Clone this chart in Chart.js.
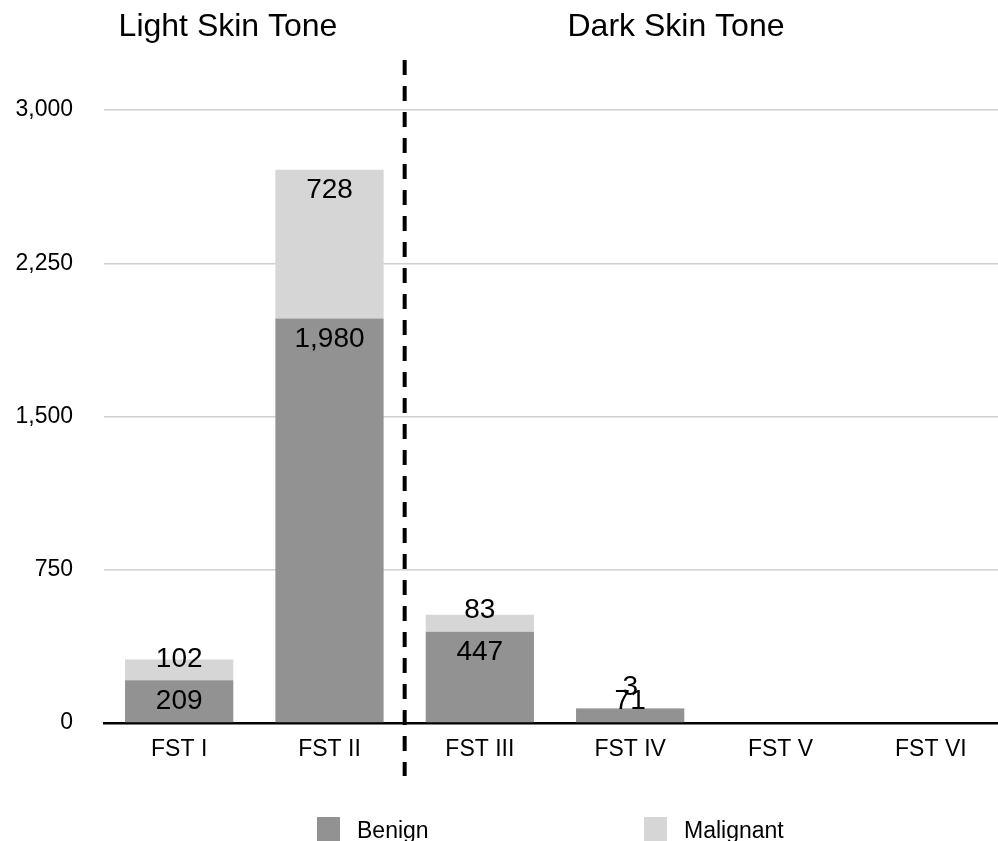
<!DOCTYPE html>
<html>
<head>
<meta charset="utf-8">
<script src="https://cdn.jsdelivr.net/npm/chart.js@4.4.0/dist/chart.umd.min.js"></script>
<style>
  html, body { margin: 0; padding: 0; background: #fff; overflow: hidden; }
  #graph { position: absolute; left: 0; top: 0; }
</style>
</head>
<body>
<canvas id="graph" width="1010" height="841"></canvas>
<script>
// data
const categories = ["FST I", "FST II", "FST III", "FST IV", "FST V", "FST VI"];
const benign = [209, 1980, 447, 71, 0, 0];
const malignant = [102, 728, 83, 3, 0, 0];
const yTicks = [0, 750, 1500, 2250, 3000];
const groupTitles = ["Light Skin Tone", "Dark Skin Tone"];

const FONT = "'Liberation Sans', Arial, Helvetica, sans-serif";
Chart.defaults.font.family = FONT;
Chart.defaults.color = "#000";

// titles above the two groups + dashed divider
const groupPlugin = {
  id: "groups",
  afterDraw(chart) {
    const ctx = chart.ctx;
    const xs = chart.scales.x;
    const divX = xs.getPixelForValue(1.5);
    ctx.save();
    ctx.strokeStyle = "#000";
    ctx.lineWidth = 4;
    ctx.setLineDash([15, 11]);
    ctx.beginPath();
    ctx.moveTo(divX, 60);
    ctx.lineTo(divX, 776);
    ctx.stroke();
    ctx.setLineDash([]);
    ctx.fillStyle = "#000";
    ctx.font = "32px " + FONT;
    ctx.textAlign = "center";
    ctx.textBaseline = "alphabetic";
    ctx.fillText(groupTitles[0], 228, 36);
    ctx.fillText(groupTitles[1], 676, 36);
    ctx.restore();
  }
};

// value labels near the top of every segment
const labelPlugin = {
  id: "vals",
  afterDatasetsDraw(chart) {
    const ctx = chart.ctx;
    ctx.save();
    ctx.font = "28px " + FONT;
    ctx.fillStyle = "#000";
    ctx.textAlign = "center";
    ctx.textBaseline = "middle";
    chart.data.datasets.forEach((ds, di) => {
      chart.getDatasetMeta(di).data.forEach((el, i) => {
        const v = ds.data[i];
        if (!v) return;
        const top = Math.min(el.y, el.base);
        const bottom = Math.max(el.y, el.base);
        const cy = Math.min(top + 21, bottom - 21);
        ctx.fillText(v.toLocaleString("en-US"), el.x, cy);
      });
    });
    ctx.restore();
  }
};

// legend drawn at the bottom (partly cut by the window)
const legendPlugin = {
  id: "legendBottom",
  afterDraw(chart) {
    const ctx = chart.ctx;
    const spots = [317, 644];
    ctx.save();
    ctx.font = "23px " + FONT;
    ctx.textAlign = "left";
    ctx.textBaseline = "middle";
    chart.data.datasets.forEach((ds, i) => {
      ctx.fillStyle = ds.backgroundColor;
      ctx.fillRect(spots[i], 817, 23, 24);
      ctx.fillStyle = "#000";
      ctx.fillText(ds.label, spots[i] + 40, 832);
    });
    ctx.restore();
  }
};

new Chart(document.getElementById("graph"), {
  type: "bar",
  data: {
    labels: categories,
    datasets: [
      {
        label: "Benign",
        data: benign,
        backgroundColor: "#929292",
        categoryPercentage: 1,
        barPercentage: 0.72,
      },
      {
        label: "Malignant",
        data: malignant,
        backgroundColor: "#d6d6d6",
        categoryPercentage: 1,
        barPercentage: 0.72,
      },
    ],
  },
  options: {
    responsive: false,
    animation: false,
    layout: { padding: { top: 110, left: 0, right: 4, bottom: 78 } },
    plugins: {
      legend: { display: false },
      tooltip: { enabled: false },
    },
    scales: {
      x: {
        stacked: true,
        grid: { display: false, drawTicks: false },
        border: { color: "#000", width: 2.5 },
        ticks: { font: { size: 23 }, color: "#000", padding: 13 },
        afterFit(scale) { scale.height = 40; },
      },
      y: {
        stacked: true,
        min: 0,
        max: 3000,
        afterBuildTicks(scale) { scale.ticks = yTicks.map(v => ({ value: v })); },
        ticks: {
          font: { size: 23 },
          color: "#000",
          padding: 31,
          callback: (v) => Number(v).toLocaleString("en-US"),
        },
        grid: { color: "#d0d0d0", lineWidth: 1.5, drawTicks: false },
        border: { display: false },
        afterFit(scale) { scale.width = 104; },
      },
    },
  },
  plugins: [groupPlugin, labelPlugin, legendPlugin],
});
</script>
</body>
</html>
